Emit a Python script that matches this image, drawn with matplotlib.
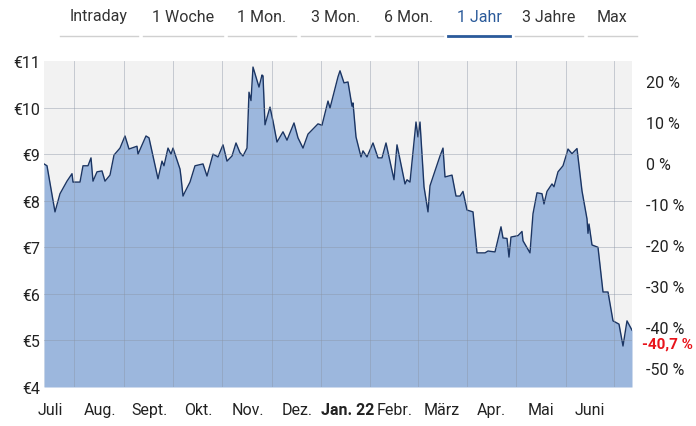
import matplotlib
matplotlib.use("Agg")
import matplotlib.pyplot as plt

plt.rcParams['font.family'] = ['Roboto', 'DejaVu Sans']

# x position (pixel-ish time axis, 0 = start of July) and price in €
xpos = [44, 47, 55, 60, 67, 72, 73, 80, 83, 88, 91, 93, 97, 102, 105, 110, 114, 120, 125, 129,
        137, 138, 146, 149, 158, 162, 164, 168, 171, 173, 180, 181, 183, 185, 190, 195, 203, 207,
        213, 218, 223, 227, 232, 236, 240, 243, 247, 249, 251, 253, 259, 262, 263, 265, 270, 273,
        277, 283, 287, 294, 298, 303, 308, 318, 322, 328, 330, 338, 340, 344, 348, 352, 353, 356,
        361, 363, 367, 373, 378, 382, 386, 394, 397, 405, 407, 410, 416, 418, 420, 424, 428, 430,
        440, 443, 445, 452, 456, 460, 463, 467, 473, 477, 485, 488, 495, 501, 503, 507, 509, 511,
        518, 522, 523, 530, 533, 537, 542, 544, 547, 552, 554, 558, 563, 566, 568, 572, 577, 582,
        587, 588, 589, 592, 598, 603, 608, 613, 619, 623, 627, 632]
price = [8.79, 8.75, 7.76, 8.15, 8.42, 8.58, 8.40, 8.40, 8.75, 8.75, 8.92, 8.42, 8.62, 8.64, 8.42,
         8.55, 8.98, 9.13, 9.39, 9.11, 9.17, 9.00, 9.39, 9.35, 8.47, 8.85, 8.75, 9.13, 9.00, 9.13,
         8.68, 8.51, 8.10, 8.19, 8.40, 8.75, 8.79, 8.53, 9.00, 8.94, 9.20, 8.85, 8.96, 9.24, 9.03,
         8.96, 9.13, 10.33, 10.15, 10.87, 10.44, 10.70, 10.68, 9.63, 10.01, 9.71, 9.26, 9.48, 9.30,
         9.67, 9.35, 9.13, 9.43, 9.65, 9.62, 10.14, 9.99, 10.66, 10.79, 10.53, 10.55, 10.03, 10.10,
         9.37, 8.94, 9.07, 8.94, 9.24, 8.92, 8.92, 9.24, 8.45, 9.20, 8.36, 8.45, 8.40, 9.69, 9.37,
         9.69, 8.30, 7.76, 8.32, 8.96, 9.13, 8.51, 8.55, 8.10, 8.10, 8.20, 7.80, 7.76, 6.88, 6.88,
         6.92, 6.90, 7.44, 7.20, 7.19, 6.79, 7.22, 7.25, 7.34, 7.14, 6.88, 7.72, 8.17, 8.15, 7.93,
         8.20, 8.36, 8.30, 8.62, 8.75, 8.96, 9.11, 9.01, 9.12, 8.21, 7.61, 7.30, 7.50, 7.05, 7.00,
         6.04, 6.04, 5.42, 5.35, 4.88, 5.42, 5.22]
base = 8.81
month_lines = [74, 124, 173, 222, 272, 321, 370, 418, 467, 516, 566, 614]
month_labels = ["Juli", "Aug.", "Sept.", "Okt.", "Nov.", "Dez.", "Jan. 22", "Febr.", "März",
                "Apr.", "Mai", "Juni"]
month_label_x = [50, 100, 149, 198, 248, 297, 348, 395, 442, 491, 541, 590]
pct_ticks = [20, 10, 0, -10, -20, -30, -40, -50]
tabs = ["Intraday", "1 Woche", "1 Mon.", "3 Mon.", "6 Mon.", "1 Jahr", "3 Jahre", "Max"]
tab_spans = [(60, 138), (143, 223), (228, 296), (301, 370), (375, 443), (448, 510), (515, 583), (588, 637)]

W, H = 696, 427
fig = plt.figure(figsize=(W / 100, H / 100), dpi=100)
ax = fig.add_axes([44 / W, (H - 388) / H, 588 / W, 326 / H])
ax.set_facecolor("#f2f2f2")
ax.fill_between(xpos, price, 4, color="#9cb7dd", lw=0, zorder=2)
ax.plot(xpos, price, color="#1b3563", lw=1.0, zorder=3)
ax.set_xlim(44, 632)
ax.set_ylim(4, 11)
for v in month_lines:
    ax.axvline(v, color="#8a94a4", lw=0.6, alpha=0.5, zorder=4)
for v in range(5, 11):
    ax.axhline(v, color="#8a94a4", lw=0.6, alpha=0.5, zorder=4)
ax.set_yticks(range(4, 12))
ax.set_yticklabels([f"€{v}" for v in range(4, 12)], fontsize=11.5, color="#222222")
ax.set_xticks([])
ax.tick_params(axis="y", length=0, pad=3)
for s in ax.spines.values():
    s.set_visible(False)

ax2 = ax.twinx()
ax2.set_ylim(4, 11)
ax2.set_yticks([base * (1 + p / 100) for p in pct_ticks])
ax2.set_yticklabels([f"{p} %" for p in pct_ticks], fontsize=11.5, color="#222222")
ax2.tick_params(axis="y", length=0, pad=10)
for s in ax2.spines.values():
    s.set_visible(False)
last_pct = (price[-1] / base - 1) * 100
fig.text(642 / W, 1 - 345 / H, f"{last_pct:.1f} %".replace(".", ","), color="#e8141b",
         fontsize=11, fontweight="bold", va="center")

for lbl, x in zip(month_labels, month_label_x):
    fig.text((x - 12) / W if lbl == "Juli" else x / W, 1 - 411 / H, lbl, ha="left" if lbl == "Juli" else "center",
             va="center", fontsize=11.5, color="#222222",
             fontweight="bold" if lbl.startswith("Jan") else "normal")

for lbl, (a, b) in zip(tabs, tab_spans):
    sel = lbl == "1 Jahr"
    fig.text((a + b) / 2 / W, 1 - 17 / H, lbl, ha="center", va="center", fontsize=11.5,
             color="#2a5a9a" if sel else "#333333")
    fig.add_artist(plt.Line2D([a / W, b / W], [1 - 37 / H] * 2,
                              color="#2a5a9a" if sel else "#d0d0d0", lw=2 if sel else 1))

fig.savefig("out.png", dpi=100)
